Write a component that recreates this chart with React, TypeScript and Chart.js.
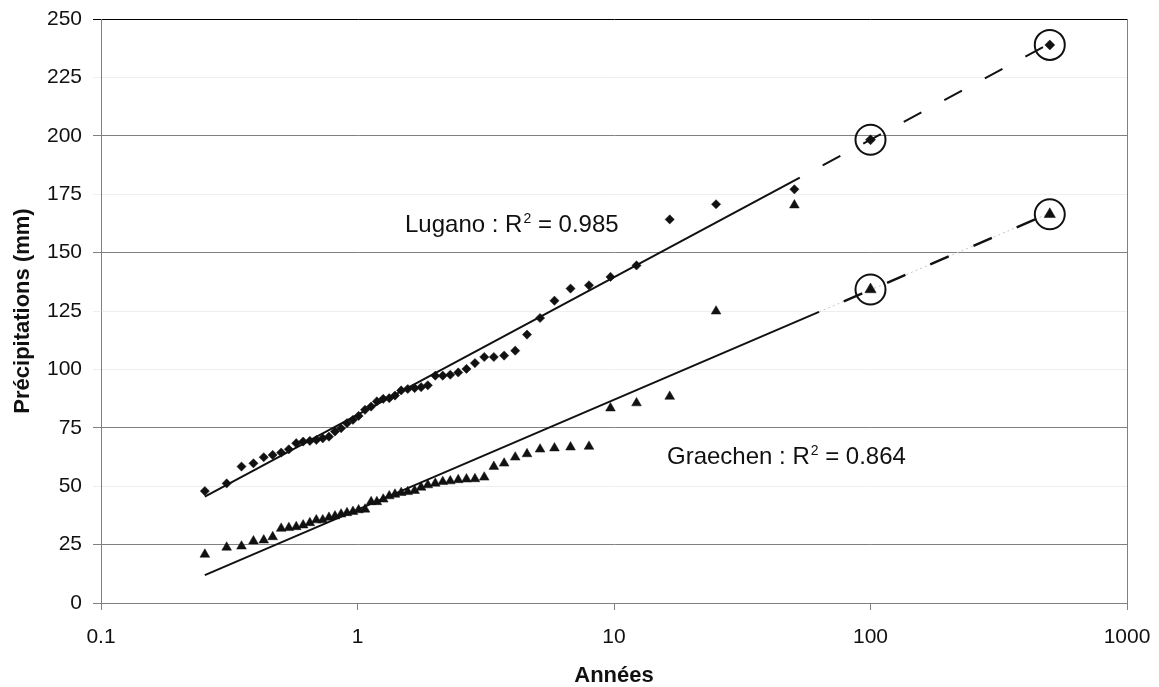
import React, { useEffect, useRef } from "react";
import { Chart, registerables } from "chart.js";

Chart.register(...registerables);

// ---- Data ----
const returnPeriods = [
  0.254, 0.309, 0.353, 0.393, 0.431, 0.467, 0.504, 0.54, 0.577, 0.614,
  0.652, 0.691, 0.732, 0.774, 0.817, 0.863, 0.91, 0.96, 1.01, 1.07,
  1.13, 1.19, 1.26, 1.33, 1.4, 1.48, 1.57, 1.67, 1.77, 1.88,
  2.01, 2.15, 2.3, 2.47, 2.66, 2.87, 3.12, 3.4, 3.73, 4.12,
  4.58, 5.15, 5.86, 6.77, 7.99, 9.69, 12.24, 16.49, 25.0, 50.5,
];

const luganoValues = [
  47.9, 51.2, 58.4, 59.8, 62.4, 63.4, 64.4, 65.8, 68.4, 69.1,
  69.4, 69.8, 70.5, 71.2, 73.4, 74.8, 77.0, 78.4, 80.1, 82.7,
  84.1, 86.3, 87.4, 87.7, 88.8, 91.0, 91.6, 92.0, 92.4, 93.2,
  97.3, 97.3, 97.7, 98.7, 100.2, 102.7, 105.3, 105.3, 105.9, 108.0,
  114.9, 122.0, 129.4, 134.6, 136.0, 139.6, 144.5, 164.2, 170.7, 177.1,
];

const graechenValues = [
  20.8, 23.8, 24.3, 26.5, 26.9, 28.3, 31.9, 32.2, 32.6, 33.3,
  34.3, 35.5, 35.5, 36.6, 37.2, 38.0, 38.6, 39.1, 39.8, 40.1,
  43.3, 43.3, 44.4, 45.8, 46.5, 47.2, 47.6, 48.1, 49.5, 50.5,
  51.2, 51.9, 52.2, 52.7, 53.0, 53.1, 53.8, 58.4, 59.8, 62.4,
  63.8, 65.8, 66.3, 66.7, 67.0, 83.4, 85.6, 88.4, 124.9, 170.3,
];

// Extrapolated (circled) values
const extrapPeriods = [100, 500];
const luganoExtrap = [198.3, 238.9];
const graechenExtrap = [134.2, 166.4];

// Fitted lines (end points)
const luganoFitSolidX = [0.254, 53];
const luganoFitSolidY = [45.5, 182.1];
const luganoFitDashX = [53, 500];
const luganoFitDashY = [182.1, 239.5];

const graechenFitSolidX = [0.254, 63];
const graechenFitSolidY = [11.9, 124.6];
const graechenFitDashX = [63, 500];
const graechenFitDashY = [124.6, 166.9];

// Axis ticks
const xTickValues = [0.1, 1, 10, 100, 1000];
const xTickLabels = ["0.1", "1", "10", "100", "1000"];
const yTickLabels = ["0", "25", "50", "75", "100", "125", "150", "175", "200", "225", "250"];

// Annotation texts
const luganoLabel = { name: "Lugano", r2: "0.985", t: 1.532, v: 159.0 };
const graechenLabel = { name: "Graechen", r2: "0.864", t: 16.09, v: 59.5 };

const FONT = '"Liberation Sans", Arial, sans-serif';
const INK = "#111111";
const AXIS_GRAY = "#808080";

const pts = (xs: number[], ys: number[]) => xs.map((x, i) => ({ x, y: ys[i] }));

const annotationPlugin = {
  id: "annotations",
  afterDraw(chart: any) {
    const { ctx, chartArea, scales } = chart;
    const xs = scales.x;
    const ys = scales.y;
    ctx.save();
    // right border of plot area
    ctx.strokeStyle = AXIS_GRAY;
    ctx.lineWidth = 1;
    const rx = Math.round(chartArea.right) + 0.5;
    ctx.beginPath();
    ctx.moveTo(rx, chartArea.top);
    ctx.lineTo(rx, chartArea.bottom);
    ctx.stroke();

    const drawLabel = (lab: { name: string; r2: string; t: number; v: number }) => {
      const px = xs.getPixelForValue(lab.t);
      const py = ys.getPixelForValue(lab.v);
      ctx.fillStyle = INK;
      ctx.textBaseline = "alphabetic";
      ctx.textAlign = "left";
      ctx.font = `24px ${FONT}`;
      const a = `${lab.name} : R`;
      ctx.fillText(a, px, py);
      let w = ctx.measureText(a).width;
      ctx.font = `14px ${FONT}`;
      ctx.fillText("2", px + w + 1, py - 9);
      w += ctx.measureText("2").width + 1;
      ctx.font = `24px ${FONT}`;
      ctx.fillText(` = ${lab.r2}`, px + w, py);
    };
    drawLabel(luganoLabel);
    drawLabel(graechenLabel);
    ctx.restore();
  },
};

const strongGrid = [25, 75, 150, 200];

export default function App() {
  const canvasRef = useRef<HTMLCanvasElement | null>(null);

  useEffect(() => {
    document.body.style.margin = "0";
    const canvas = canvasRef.current;
    if (!canvas) return;

    const circleData = [
      ...pts(extrapPeriods, luganoExtrap),
      ...pts(extrapPeriods, graechenExtrap),
    ];

    const chart = new Chart(canvas, {
      type: "scatter",
      data: {
        datasets: [
          {
            label: "Lugano",
            data: pts(returnPeriods, luganoValues),
            pointStyle: "rectRot",
            pointRadius: 4.6,
            backgroundColor: INK,
            borderColor: INK,
            borderWidth: 0.5,
          },
          {
            label: "Graechen",
            data: pts(returnPeriods, graechenValues),
            pointStyle: "triangle",
            pointRadius: 5.6,
            backgroundColor: INK,
            borderColor: INK,
            borderWidth: 0.5,
          },
          {
            label: "Lugano extrapolé",
            data: pts(extrapPeriods, luganoExtrap),
            pointStyle: "rectRot",
            pointRadius: 5,
            backgroundColor: INK,
            borderColor: INK,
            borderWidth: 0.5,
          },
          {
            label: "Graechen extrapolé",
            data: pts(extrapPeriods, graechenExtrap),
            pointStyle: "triangle",
            pointRadius: 6.5,
            backgroundColor: INK,
            borderColor: INK,
            borderWidth: 0.5,
          },
          {
            label: "cercles",
            data: circleData,
            pointStyle: "circle",
            pointRadius: 15,
            backgroundColor: "rgba(0,0,0,0)",
            borderColor: INK,
            borderWidth: 2,
          },
          {
            label: "Lugano ajustement",
            data: pts(luganoFitSolidX, luganoFitSolidY),
            showLine: true,
            pointRadius: 0,
            borderColor: INK,
            borderWidth: 2,
          },
          {
            label: "Lugano extrapolation",
            data: pts(luganoFitDashX, luganoFitDashY),
            showLine: true,
            pointRadius: 0,
            borderColor: INK,
            borderWidth: 2,
            borderDash: [20, 26],
            borderDashOffset: 20,
          },
          {
            label: "Graechen ajustement",
            data: pts(graechenFitSolidX, graechenFitSolidY),
            showLine: true,
            pointRadius: 0,
            borderColor: INK,
            borderWidth: 2,
          },
          {
            label: "Graechen extrapolation",
            data: pts(graechenFitDashX, graechenFitDashY),
            showLine: true,
            pointRadius: 0,
            borderColor: INK,
            borderWidth: 2.5,
            borderDash: [20, 27],
            borderDashOffset: 20,
          },
          {
            label: "Graechen extrapolation (trait fin)",
            data: pts(graechenFitDashX, graechenFitDashY),
            showLine: true,
            pointRadius: 0,
            borderColor: "#c4c4c4",
            borderWidth: 1,
            borderDash: [2, 3],
          },
        ],
      },
      options: {
        responsive: false,
        animation: false,
        events: [],
        layout: { padding: { left: 0, right: 32, top: 19, bottom: 0 } },
        plugins: {
          legend: { display: false },
          tooltip: { enabled: false },
        },
        scales: {
          x: {
            type: "logarithmic",
            min: 0.1,
            max: 1000,
            afterBuildTicks: (scale: any) => {
              scale.ticks = xTickValues.map((v) => ({ value: v }));
            },
            afterFit: (scale: any) => {
              scale.height = 84;
              scale.paddingLeft = 0;
              scale.paddingRight = 0;
            },
            ticks: {
              autoSkip: false,
              maxRotation: 0,
              padding: 15,
              color: INK,
              font: { family: FONT, size: 21 },
              callback: (value: any) => {
                const i = xTickValues.indexOf(Number(value));
                return i >= 0 ? xTickLabels[i] : "";
              },
            },
            grid: {
              drawOnChartArea: false,
              drawTicks: true,
              tickLength: 7,
              color: AXIS_GRAY,
            },
            border: { display: true, color: AXIS_GRAY, width: 1 },
            title: {
              display: true,
              text: "Années",
              color: INK,
              font: { family: FONT, size: 22, weight: "bold", lineHeight: 1 },
              padding: { top: 0, bottom: 0 },
            },
          },
          y: {
            type: "linear",
            min: 0,
            max: 250,
            afterFit: (scale: any) => {
              scale.width = 101;
              scale.paddingTop = 0;
              scale.paddingBottom = 0;
            },
            ticks: {
              stepSize: 25,
              padding: 11,
              color: INK,
              font: { family: FONT, size: 21 },
              callback: (value: any) => {
                const i = Math.round(Number(value) / 25);
                return yTickLabels[i] ?? String(value);
              },
            },
            grid: {
              drawTicks: true,
              tickLength: 8,
              color: (c: any) => {
                const v = c.tick ? c.tick.value : 0;
                if (v === 250) return "#000000";
                if (v === 0) return AXIS_GRAY;
                return strongGrid.includes(v) ? AXIS_GRAY : "#eeeeee";
              },
            },
            border: { display: true, color: AXIS_GRAY, width: 1 },
            title: {
              display: true,
              text: "Précipitations (mm)",
              color: INK,
              font: { family: FONT, size: 22, weight: "bold", lineHeight: 1 },
              padding: { top: 12, bottom: 0 },
            },
          },
        },
      },
      plugins: [annotationPlugin],
    } as any);

    return () => {
      chart.destroy();
    };
  }, []);

  return (
    <div style={{ width: 1159, height: 687, background: "#ffffff" }}>
      <canvas ref={canvasRef} width={1159} height={687} style={{ display: "block" }} />
    </div>
  );
}
